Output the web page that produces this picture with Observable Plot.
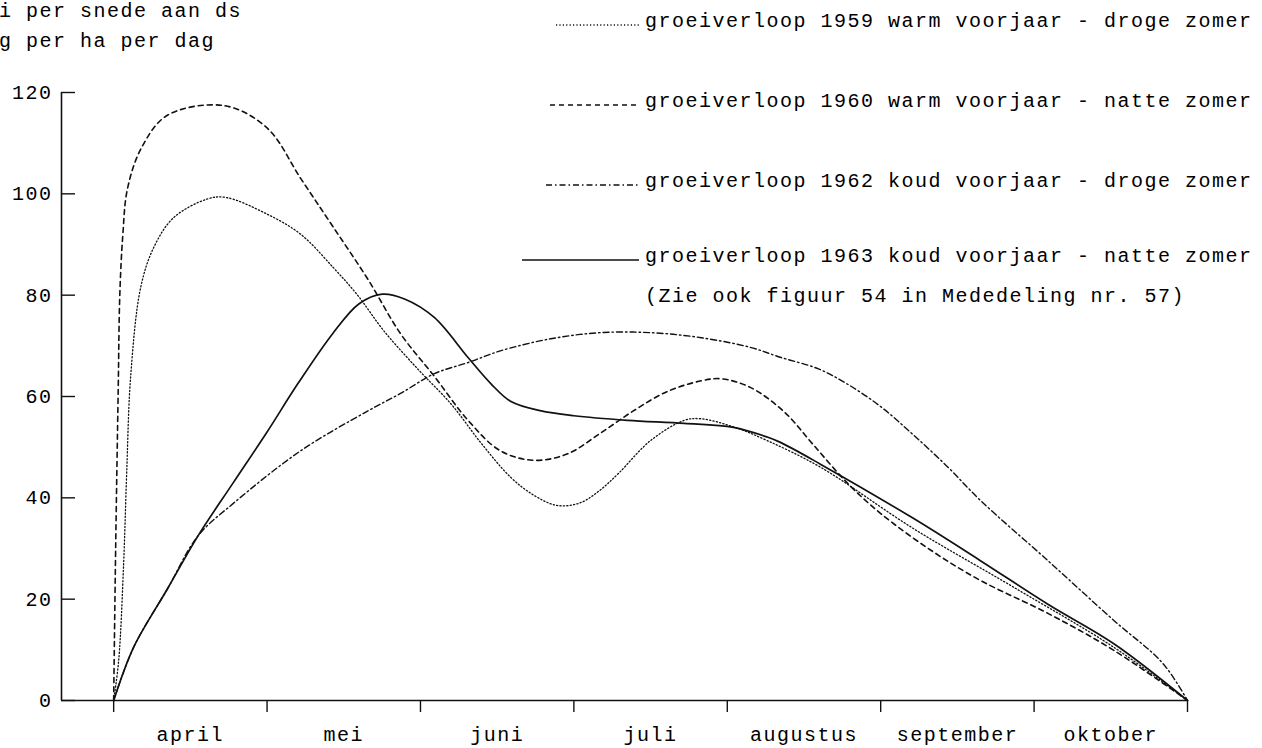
<!DOCTYPE html>
<html><head><meta charset="utf-8">
<script src="https://cdn.jsdelivr.net/npm/d3@7"></script>
<script src="https://cdn.jsdelivr.net/npm/@observablehq/plot@0.6"></script>
<style>
body{margin:0;background:#fff;}
#wrap{position:relative;width:1262px;height:748px;overflow:hidden;font-family:"Liberation Mono",monospace;color:#000;}
#wrap svg{position:absolute;left:0;top:0;}
.t{position:absolute;font-size:20px;letter-spacing:1.5px;white-space:nowrap;line-height:20px;color:#000;}
</style></head><body><div id="wrap"></div>
<script>
// ---- data ----
const months = ["april","mei","juni","juli","augustus","september","oktober"];
const monthBounds = [0,1,2,3,4,5,6,7];
const monthMids = [0.5,1.5,2.5,3.5,4.5,5.5,6.5];
const yTicks = [0,20,40,60,80,100,120];
const titleLines = ["i per snede aan ds","g per ha per dag"];
const seriesLabels = [
  "groeiverloop 1959 warm voorjaar - droge zomer",
  "groeiverloop 1960 warm voorjaar - natte zomer",
  "groeiverloop 1962 koud voorjaar - droge zomer",
  "groeiverloop 1963 koud voorjaar - natte zomer"
];
const note = "(Zie ook figuur 54 in Mededeling nr. 57)";

// x in months from start of April
const x1959 = [0,0.033,0.065,0.085,0.111,0.176,0.261,0.391,0.613,0.73,1.0,1.22,1.43,1.59,1.76,1.98,2.2,2.39,2.59,2.74,2.89,3.04,3.17,3.29,3.5,3.72,3.83,4.04,4.26,4.61,5.21,5.87,6.52,7];
const y1959 = [0,8,27,45,64,81.5,89.4,95.3,99,99.3,96,92,85.5,80,73,65.5,58.5,51,44,40.5,38.5,39,41.5,44.8,51.3,55.3,55.6,54,51.3,46,34,22.3,10.5,0];

const x1960 = [0,0.013,0.03,0.04,0.06,0.09,0.18,0.35,0.72,1.0,1.22,1.43,1.66,1.87,2.09,2.31,2.52,2.74,2.96,3.17,3.39,3.61,3.83,3.96,4.15,4.37,4.56,4.78,5.0,5.33,5.65,6.09,6.52,7];
const y1960 = [0,30,62,80,92,101,109,115.5,117.4,113,103,93.5,83,72.4,64,55.3,49.3,47.4,48.7,52.7,57.2,61,63.1,63.5,61.8,57,50.5,43,36.9,29.6,23.7,17.2,9.9,0];

const x1962 = [0,0.13,0.35,0.55,0.78,1.22,1.66,1.87,2.09,2.31,2.52,2.85,3.17,3.5,3.83,4.15,4.35,4.59,4.78,5.0,5.21,5.44,5.65,6.09,6.52,6.84,7];
const y1962 = [0,10.5,22,32.5,38.9,49.3,57.2,60.6,64.5,66.7,69,71.4,72.6,72.6,71.6,69.7,67.7,65.5,62.5,58,52.5,46,39.5,27.6,15.8,7.3,0];

const x1963 = [0,0.13,0.35,0.55,0.78,1.0,1.2,1.43,1.6,1.75,1.9,2.09,2.31,2.46,2.59,2.78,3.0,3.35,3.72,4.04,4.26,4.35,4.61,5.21,5.65,6.09,6.52,7];
const y1963 = [0,10.5,22,32.5,43,53,62.5,72.5,78.3,80.2,79.2,75.6,67.7,62.5,59,57.2,56.2,55.3,54.7,53.9,52,50.9,46.6,36,27.6,19,11.2,0];

// ---- build ----
const styles = [
  {dash:"1.2,2.2", w:1.3},
  {dash:"5,4", w:1.6},
  {dash:"6,3,1.5,3", w:1.4},
  {dash:null, w:1.7}
];
const xs = [x1959,x1960,x1962,x1963], ys = [y1959,y1960,y1962,y1963];
const series = xs.map((xa,i)=>xa.map((x,j)=>({x, y: ys[i][j]})));

const xDomain = [-0.34, 7];
const plot = Plot.plot({
  width:1262, height:748,
  marginLeft:61, marginRight:75, marginTop:92, marginBottom:48,
  x:{domain:xDomain, label:null}, y:{domain:[0,120], label:null},
  style:{fontFamily:"'Liberation Mono', monospace", fontSize:"20px", color:"#000", background:"transparent", letterSpacing:"1.5px"},
  marks:[
    Plot.ruleY([0], {stroke:"#111", strokeWidth:1.6}),
    Plot.ruleX([xDomain[0]], {y1:0, y2:120, stroke:"#111", strokeWidth:1.6}),
    Plot.axisY(yTicks, {label:null, tickSize:-14, tickPadding:23, stroke:"#111", strokeWidth:1.4, fill:"#000"}),
    Plot.axisX(monthBounds, {label:null, tickSize:12, tickFormat:()=>"", stroke:"#111", strokeWidth:1.4}),
    Plot.axisX(monthMids, {label:null, tickSize:0, tickPadding:26, tickFormat:(d,i)=>months[i], fill:"#000"}),
    ...series.map((s,i)=>Plot.line(s, {x:"x", y:"y", curve:"catmull-rom", stroke:"#111", strokeWidth:styles[i].w, strokeDasharray:styles[i].dash}))
  ]
});
const wrap = document.getElementById("wrap");
wrap.appendChild(plot);

// titles
const titleTops = [2, 32];
titleLines.forEach((t,i)=>{
  const d=document.createElement("div"); d.className="t"; d.textContent=t;
  d.style.left="-1px"; d.style.top=titleTops[i]+"px"; wrap.appendChild(d);
});
// legend
const rowCenters = [22,102,182,257];
const sampleStarts = [556,550,546,522];
const textLeft = 645;
seriesLabels.forEach((lab,i)=>{
  const c = rowCenters[i];
  const ns="http://www.w3.org/2000/svg";
  const svg=document.createElementNS(ns,"svg");
  const w=textLeft-6-sampleStarts[i];
  svg.setAttribute("width",w); svg.setAttribute("height",6);
  svg.style.position="absolute"; svg.style.left=sampleStarts[i]+"px"; svg.style.top=(c)+"px";
  const ln=document.createElementNS(ns,"line");
  ln.setAttribute("x1",0); ln.setAttribute("x2",w); ln.setAttribute("y1",3); ln.setAttribute("y2",3);
  ln.setAttribute("stroke","#111"); ln.setAttribute("stroke-width",styles[i].w);
  if(styles[i].dash) ln.setAttribute("stroke-dasharray",styles[i].dash);
  svg.appendChild(ln); wrap.appendChild(svg);
  const d=document.createElement("div"); d.className="t"; d.textContent=lab;
  d.style.left=textLeft+"px"; d.style.top=(c-10)+"px"; wrap.appendChild(d);
});
const n=document.createElement("div"); n.className="t"; n.textContent=note;
n.style.left="645px"; n.style.top=(297-10)+"px"; wrap.appendChild(n);
</script></body></html>
